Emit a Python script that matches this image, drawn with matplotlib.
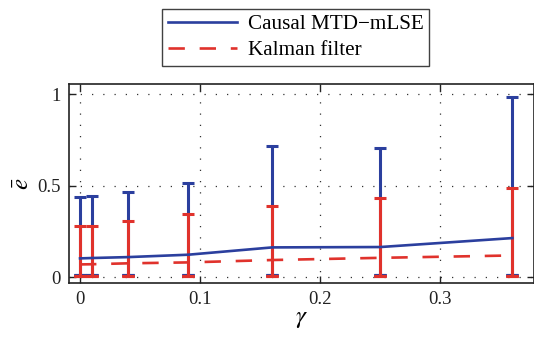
import matplotlib.pyplot as plt
import numpy as np

plt.rcParams['font.family'] = ['Liberation Serif', 'DejaVu Serif']
plt.rcParams['mathtext.fontset'] = 'stix'

# data
gamma = [0, 0.01, 0.04, 0.09, 0.16, 0.25, 0.36]

mtd_mean = [0.102, 0.104, 0.109, 0.122, 0.162, 0.164, 0.213]
mtd_low = [0.010, 0.010, 0.010, 0.010, 0.010, 0.012, 0.012]
mtd_high = [0.435, 0.444, 0.465, 0.512, 0.717, 0.705, 0.984]

kf_mean = [0.069, 0.070, 0.075, 0.080, 0.093, 0.105, 0.118]
kf_low = [0.005, 0.005, 0.006, 0.006, 0.006, 0.006, 0.007]
kf_high = [0.280, 0.281, 0.306, 0.343, 0.386, 0.432, 0.485]

blue = '#2b3f9e'
red = '#e0322c'

fig = plt.figure(figsize=(5.34, 3.37), dpi=100)
ax = fig.add_axes([0.1292, 0.160, 0.8708, 0.5907])

# vertical range bars (low to high) with caps
ax.errorbar(gamma, mtd_low, yerr=[np.zeros(len(gamma)), np.array(mtd_high) - np.array(mtd_low)],
            fmt='none', ecolor=blue, elinewidth=2.2, capsize=4, capthick=2.2, zorder=3)
ax.errorbar(gamma, kf_low, yerr=[np.zeros(len(gamma)), np.array(kf_high) - np.array(kf_low)],
            fmt='none', ecolor=red, elinewidth=2.2, capsize=4, capthick=2.2, zorder=4)
# caps at the lower end
ax.errorbar(gamma, mtd_low, yerr=0, fmt='none', ecolor=blue, elinewidth=0,
            capsize=4, capthick=2.2, zorder=3)
ax.errorbar(gamma, kf_low, yerr=0, fmt='none', ecolor=red, elinewidth=0,
            capsize=4, capthick=2.2, zorder=4)

l1, = ax.plot(gamma, mtd_mean, color=blue, lw=1.9, label='Causal MTD\u2212mLSE', zorder=5)
l2, = ax.plot(gamma, kf_mean, color=red, lw=1.9, dashes=(6.2, 5.6),
              label='Kalman filter', zorder=5)

ax.set_xlim(-0.0092, 0.378)
ax.set_ylim(-0.033, 1.055)
ax.set_xticks([0, 0.1, 0.2, 0.3])
ax.set_xticklabels(['0', '0.1', '0.2', '0.3'])
ax.set_yticks([0, 0.5, 1])
ax.set_yticklabels(['0', '0.5', '1'])
ax.tick_params(direction='in', length=5, width=1, top=True, right=True,
               labelsize=13.5, colors='#222222', pad=6)
ax.grid(True, color='#333333', linestyle=(0, (1, 8)), linewidth=0.9)
for s in ax.spines.values():
    s.set_linewidth(1.2)
    s.set_color('#222222')

ax.set_xlabel(r'$\gamma$', fontsize=18, labelpad=0)
ax.set_ylabel(r'$\bar{e}$', fontsize=18, labelpad=2)

leg = fig.legend(handles=[l1, l2], loc='upper center', bbox_to_anchor=(0.5534, 0.973),
                 borderaxespad=0, fontsize=15.2, frameon=True, fancybox=False,
                 edgecolor='#111111', handlelength=3.3, borderpad=0.25,
                 labelspacing=0.3, handletextpad=0.5)
leg.get_frame().set_linewidth(1.0)

fig.savefig('out.png', dpi=100)
